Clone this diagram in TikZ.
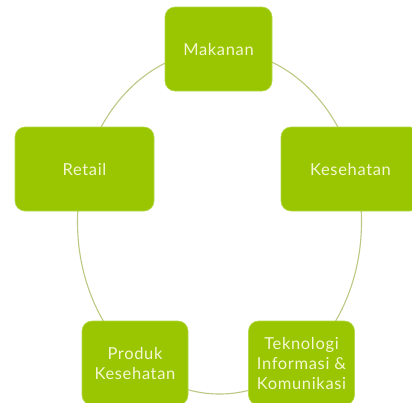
\documentclass[tikz,border=0pt]{standalone}
\usepackage{fontspec}
\setmainfont{Lato}[LetterSpace=4]
\definecolor{boxgreen}{HTML}{99C600}
\definecolor{boxedge}{HTML}{B5D84A}
\definecolor{ringcol}{HTML}{BFC784}
\definecolor{txtcol}{HTML}{F4F7D2}
\begin{document}
\begin{tikzpicture}[x=1pt,y=-1pt,
  item/.style={fill=boxgreen,draw=boxedge,line width=0.6pt,rounded corners=10pt,
    minimum width=#1,minimum height=84pt,inner sep=0pt,text=txtcol,align=center,
    font=\fontsize{16.5}{20}\selectfont},
  item/.default=107pt]
\useasboundingbox (0,0) rectangle (412,402);
\clip (0,0) rectangle (412,402);
\fill[white] (0,0) rectangle (412,402);
\coordinate (c) at (219.5,222);
\draw[ringcol,line width=1.1pt] (c) ellipse [x radius=142, y radius=172];
\node[item=107pt] (mak) at (218.5,49) {Makanan};
\node[item=139pt] (ret) at (84.5,169) {Retail};
\node[item=139pt] (kes) at (350.5,169) {Kesehatan};
\node[item=106pt] (pro) at (135,363) {Produk\\Kesehatan};
\node[item=106pt] (tek) at (301.5,363) {Teknologi\\Informasi \&\\Komunikasi};
\end{tikzpicture}
\end{document}
